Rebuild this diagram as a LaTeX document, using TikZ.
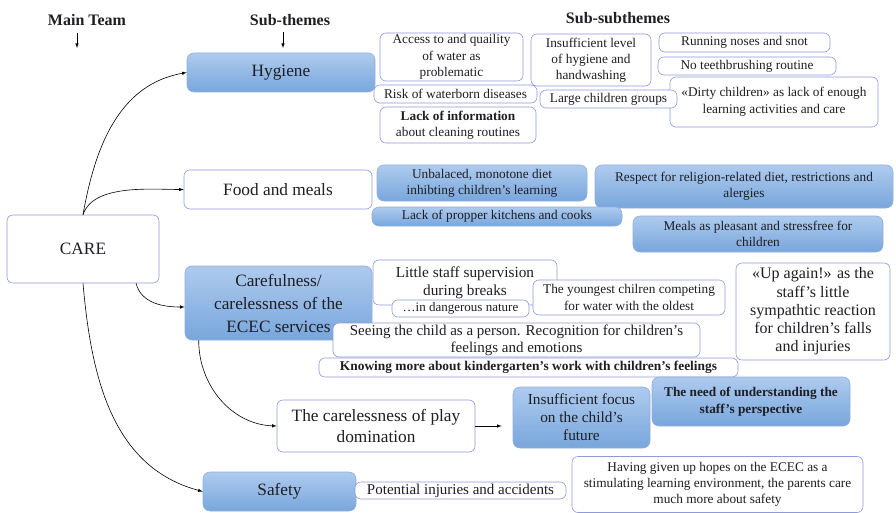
\documentclass[tikz,border=0pt]{standalone}
\usepackage{fontspec}
\setmainfont{Liberation Serif}
\definecolor{ink}{HTML}{1E1E24}
\definecolor{edge}{HTML}{8E9BD8}
\definecolor{blueedge}{HTML}{93AEDB}
\definecolor{bluetop}{HTML}{AECBEE}
\definecolor{bluebot}{HTML}{78A6DC}

\begin{document}
\begin{tikzpicture}[x=1pt,y=-1pt,>=latex,semithick,
  wbox/.style={draw=edge,fill=white,rounded corners=6pt,align=center,inner sep=0pt,text=ink},
  bbox/.style={draw=blueedge,top color=bluetop,bottom color=bluebot,rounded corners=7pt,align=center,inner sep=0pt,text=ink},
  sz/.style 2 args={minimum width=#1,minimum height=#2},
  head/.style={font=\fontsize{16}{19}\selectfont\bfseries,text=ink},
  fa/.style={font=\fontsize{13}{15.5}\selectfont},
  fb/.style={font=\fontsize{13.3}{16.2}\selectfont},
  fc/.style={font=\fontsize{15}{17}\selectfont},
  fd/.style={font=\fontsize{15.3}{18}\selectfont},
  fe/.style={font=\fontsize{17.3}{21}\selectfont},
  link/.style={->,black}]

\useasboundingbox (0,0) rectangle (896,513);

% column heads
\node[head] (mainh) at (87,20) {Main Team};
\node[head] (subh) at (290,20) {Sub-themes};
\node[head] (subsubh) at (618,18) {Sub-subthemes};
\coordinate (mh1) at (77,33);
\coordinate (mh2) at (77,48);
\coordinate (sh1) at (283,32);
\coordinate (sh2) at (283,48);

% main team
\node[wbox,fe,sz={152}{68}] (care) at (83,249) {CARE};

% hygiene
\node[bbox,fe,sz={188}{39}] (hyg) at (281,72.5) {Hygiene};
\node[wbox,fb,sz={143}{48}] (acc) at (451.5,57) {Access to and quaility\\of water as\\problematic};
\node[wbox,fb,sz={163}{18}] (risk) at (455.5,94) {Risk of waterborn diseases};
\node[wbox,fb,sz={156}{36}] (lack) at (458,125) {{\bfseries Lack of information}\\about cleaning routines};
\node[wbox,fb,sz={120}{52}] (insuf) at (591,60) {Insufficient  level\\of hygiene and\\handwashing};
\node[wbox,fb,sz={171}{19}] (nose) at (744.5,42.5) {Running noses and snot};
\node[wbox,fb,sz={178}{18}] (teeth) at (747,66) {No teethbrushing routine};
\node[wbox,fb,font=\fontsize{13.3}{17}\selectfont,sz={208}{50}] (dirty) at (774,102) {«Dirty children» as lack of enough\\learning activities and care};
\node[wbox,fb,sz={137}{18}] (groups) at (608.5,99) {Large children groups};

% food
\node[wbox,fe,sz={188}{39}] (food) at (278,189.5) {Food and meals};
\node[bbox,fb,sz={210}{36}] (diet) at (482,183) {Unbalaced, monotone diet\\inhibting children’s learning};
\node[bbox,fb,sz={298}{43}] (relig) at (744,186.5) {Respect for religion-related diet, restrictions and\\alergies};
\node[bbox,fb,sz={250}{19}] (kitch) at (497,216.5) {Lack of propper kitchens and cooks};
\node[bbox,fb,sz={250}{36}] (meals) at (758,234) {Meals as pleasant and stressfree for\\children};

% carefulness
\node[bbox,fe,font=\fontsize{17.3}{23}\selectfont,sz={187}{74}] (careful) at (278.5,303) {Carefulness/\\carelessness of the\\ECEC services};
\node[wbox,fd,sz={184}{45}] (staff) at (465,282.5) {Little staff supervision\\during breaks};
\node[wbox,fa,sz={137}{17}] (danger) at (460.5,308.5) {…in dangerous nature};
\node[wbox,fb,sz={192}{35}] (young) at (629,297.5) {The youngest chilren competing\\for water with the oldest};
\node[wbox,font=\fontsize{16}{18.3}\selectfont,sz={154}{97}] (upagain) at (813,311.5) {«Up again!» as the\\staff’s little\\sympathtic reaction\\for children’s falls\\and injuries};
\node[wbox,fc,sz={367}{34}] (person) at (516.5,340) {Seeing the child as a person. Recognition for children’s\\feelings and emotions};
\node[wbox,font=\fontsize{13.4}{16}\selectfont\bfseries,sz={419}{19}] (knowing) at (528.5,367.5) {Knowing more about kindergarten’s work with children’s feelings};

% play
\node[wbox,fe,font=\fontsize{17.3}{20.5}\selectfont,sz={198}{52}] (play) at (376,426) {The carelessness of play\\domination};
\node[bbox,fd,sz={137}{61}] (focus) at (581.5,417.5) {Insufficient focus\\on the child’s\\future};
\node[bbox,font=\fontsize{13.3}{17}\selectfont\bfseries,sz={198}{49}] (need) at (751,401.5) {The need of understanding the\\staff’s perspective};

% safety
\node[bbox,fe,sz={153}{39}] (safety) at (279.5,491.5) {Safety};
\node[wbox,fc,sz={211}{17}] (injury) at (460.5,490.5) {Potential injuries and accidents};
\node[wbox,fb,sz={291}{56}] (hopes) at (717.5,484.5) {Having given up hopes on the ECEC as a\\stimulating learning environment, the parents care\\much more about safety};

% arrows
\draw[link] (mh1) -- (mh2);
\draw[link] (sh1) -- (sh2);
\draw[link] (care.north) to[out=80,in=190] (hyg.west);
\draw[link] (care.north) to[out=72,in=180,looseness=0.8] (food.west);
\draw[link] ([xshift=53pt]care.south) to[out=-75,in=180] ([yshift=-4pt]careful.west);
\draw[link] (care.south) to[out=-85,in=165] (safety.west);
\draw[link] ([xshift=14pt]careful.south west) to[out=-90,in=178] (play.west);
\draw[link,shorten >=11pt] (play.east) -- (play.east -| focus.west);

\end{tikzpicture}
\end{document}
